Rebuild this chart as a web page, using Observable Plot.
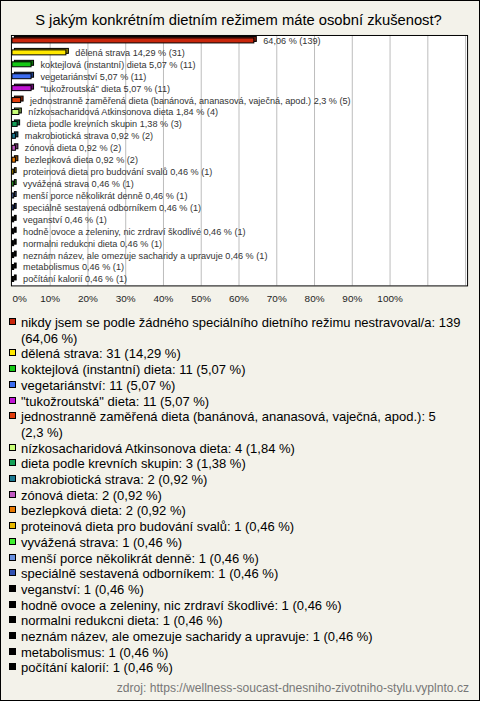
<!DOCTYPE html>
<html>
<head>
<meta charset="utf-8">
<script src="https://cdn.jsdelivr.net/npm/d3@7"></script>
<script src="https://cdn.jsdelivr.net/npm/@observablehq/plot@0.6"></script>
<style>
  html, body { margin: 0; padding: 0; }
  body { width: 480px; height: 701px; overflow: hidden; }
  #wrap {
    position: relative; box-sizing: border-box; width: 480px; height: 701px;
    background: #f3f2ea; border: 1px solid #000;
    font-family: "Liberation Sans", Arial, sans-serif; color: #000;
  }
  #title { position: absolute; left: 0; top: 10px; width: 475px; text-align: center; font-size: 14.75px; line-height: 18px; }
  #chart { position: absolute; left: -1px; top: 31px; }
  #chart svg { display: block; }
  #legend { position: absolute; left: 5px; top: 314px; width: 469px; font-size: 13px; line-height: 15.7px; }
  .item { display: flex; align-items: flex-start; }
  .sw { flex: 0 0 auto; width: 5px; height: 5px; border: 1px solid #000; margin: 3px 5px 0 3px; }
  #src { position: absolute; right: 10px; bottom: 5px; font-size: 12.1px; line-height: 14px; color: #777; }
</style>
</head>
<body>
<div id="wrap">
  <div id="title"></div>
  <div id="chart"></div>
  <div id="legend"></div>
  <div id="src"></div>
</div>
<script>
const titleText = "S jakým konkrétním dietním režimem máte osobní zkušenost?";
const sourceText = "zdroj: https://wellness-soucast-dnesniho-zivotniho-stylu.vyplnto.cz";

const categories = [
  "nikdy jsem se podle žádného speciálního dietního režimu nestravoval/a",
  "dělená strava",
  "koktejlová (instantní) dieta",
  "vegetariánství",
  "\"tukožroutská\" dieta",
  "jednostranně zaměřená dieta (banánová, ananasová, vaječná, apod.)",
  "nízkosacharidová Atkinsonova dieta",
  "dieta podle krevních skupin",
  "makrobiotická strava",
  "zónová dieta",
  "bezlepková dieta",
  "proteinová dieta pro budování svalů",
  "vyvážená strava",
  "menší porce několikrát denně",
  "speciálně sestavená odborníkem",
  "veganství",
  "hodně ovoce a zeleniny, nic zrdraví škodlivé",
  "normalni redukcni dieta",
  "neznám název, ale omezuje sacharidy a upravuje",
  "metabolismus",
  "počítání kalorií"
];
const counts = [139, 31, 11, 11, 11, 5, 4, 3, 2, 2, 2, 1, 1, 1, 1, 1, 1, 1, 1, 1, 1];
const percents = [64.06, 14.29, 5.07, 5.07, 5.07, 2.3, 1.84, 1.38, 0.92, 0.92, 0.92, 0.46, 0.46, 0.46, 0.46, 0.46, 0.46, 0.46, 0.46, 0.46, 0.46];
const colors = ["#c8260c", "#ffe800", "#14c814", "#3c6cf0", "#c014d4", "#e03c0c", "#c8ff78", "#14a058",
  "#1a7890", "#c058c0", "#e87800", "#e8b800", "#40f030", "#6890e0", "#3050b0",
  "#000000", "#000000", "#000000", "#000000", "#000000", "#000000"];
const tickValues = [10, 20, 30, 40, 50, 60, 70, 80, 90, 100];
const firstTick = [0];
const gridValues = [10, 20, 30, 40, 50, 60, 70, 80, 90, 100, 110, 120];

const fmt = v => String(v).replace(".", ",");
const rows = categories.map((name, i) => ({
  name, n: counts[i], pct: percents[i], color: colors[i],
  dark: d3.color(colors[i]).darker(1.6).formatHex(),
  barLabel: i === 0 ? `${fmt(percents[i])} % (${counts[i]})` : `${name} ${fmt(percents[i])} % (${counts[i]})`
}));

document.getElementById("title").textContent = titleText;
document.getElementById("src").textContent = sourceText;

const chart = Plot.plot({
  width: 482,
  height: 281,
  marginTop: 3,
  marginBottom: 26,
  marginLeft: 11,
  marginRight: 12,
  insetLeft: 1,
  insetRight: 2,
  style: { background: "transparent", fontFamily: "Liberation Sans, Arial, sans-serif" },
  x: { domain: [0, 120], label: null },
  y: { domain: categories, paddingInner: 0.55, paddingOuter: 0.275, axis: null },
  marks: [
    Plot.frame({ fill: "white", stroke: null }),
    Plot.ruleX(gridValues, { stroke: "#bcbcbc", strokeWidth: 1 }),
    Plot.barX(rows, { x1: 0, x2: "pct", y: "name", fill: "dark", stroke: "#000", strokeWidth: 1, dx: 2.5, dy: -1.5 }),
    Plot.barX(rows, { x1: 0, x2: "pct", y: "name", fill: "color", stroke: "#000", strokeWidth: 1 }),
    Plot.text(rows, { x: "pct", y: "name", text: "barLabel", dx: 9, textAnchor: "start", fontSize: 9.2, fill: "#333" }),
    Plot.axisX(tickValues, { tickFormat: d => d + "%", tickSize: 0, tickPadding: 9, fontSize: 10, color: "#222", label: null }),
    Plot.axisX(firstTick, { tickFormat: d => d + "%", tickSize: 0, tickPadding: 9, fontSize: 10, color: "#222", label: null, textAnchor: "start" }),
    Plot.frame({ stroke: "#000", strokeWidth: 1 })
  ]
});
document.getElementById("chart").appendChild(chart);

const legend = document.getElementById("legend");
rows.forEach(r => {
  const item = document.createElement("div");
  item.className = "item";
  const sw = document.createElement("span");
  sw.className = "sw";
  sw.style.background = r.color;
  const tx = document.createElement("span");
  tx.textContent = `${r.name}: ${r.n} (${fmt(r.pct)}\u00a0%)`;
  item.appendChild(sw);
  item.appendChild(tx);
  legend.appendChild(item);
});
</script>
</body>
</html>
